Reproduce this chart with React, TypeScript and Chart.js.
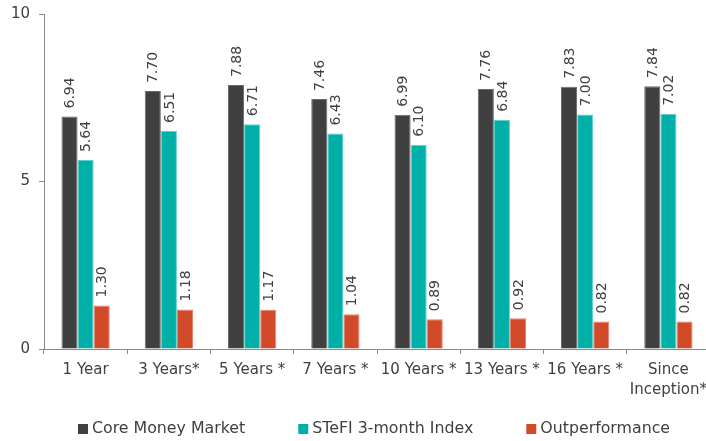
import React, { useEffect, useRef } from "react";
import { Chart, registerables } from "chart.js";

Chart.register(...registerables);

const categories: (string | string[])[] = ["1 Year", "3 Years*", "5 Years *", "7 Years *", "10 Years *", "13 Years *", "16 Years *", ["Since", "Inception*"]];
const coreMoneyMarket = [6.94, 7.70, 7.88, 7.46, 6.99, 7.76, 7.83, 7.84];
const stefi = [5.64, 6.51, 6.71, 6.43, 6.10, 6.84, 7.00, 7.02];
const outperformance = [1.30, 1.18, 1.17, 1.04, 0.89, 0.92, 0.82, 0.82];
const seriesNames = ["Core Money Market", "STeFI 3-month Index", "Outperformance"];
const seriesColors = ["#404040", "#00B0A8", "#D34A2A"];
const seriesBorders = ["#6a6a6a", "#5fd0ca", "#e8806a"];
const yTicks = [0, 5, 10];

const FONT = "'DejaVu Sans', sans-serif";
const TEXT = "#404040";

const valueLabels = {
  id: "valueLabels",
  afterDatasetsDraw(chart: any) {
    const ctx = chart.ctx;
    ctx.save();
    ctx.fillStyle = TEXT;
    ctx.font = `14px ${FONT}`;
    ctx.textAlign = "left";
    ctx.textBaseline = "middle";
    chart.data.datasets.forEach((ds: any, di: number) => {
      const meta = chart.getDatasetMeta(di);
      meta.data.forEach((bar: any, i: number) => {
        const v = ds.data[i] as number;
        ctx.save();
        ctx.translate(bar.x + 1, bar.y - 8);
        ctx.rotate(-Math.PI / 2);
        ctx.fillText(v.toFixed(2), 0, 0);
        ctx.restore();
      });
    });
    ctx.restore();
  },
};

const customLegend = {
  id: "customLegend",
  afterDraw(chart: any) {
    const ctx = chart.ctx;
    const area = chart.chartArea;
    ctx.save();
    ctx.font = `15.8px ${FONT}`;
    ctx.textBaseline = "middle";
    ctx.textAlign = "left";
    const box = 10;
    const boxGap = 4;
    const itemGap = 53;
    const widths = seriesNames.map((n) => box + boxGap + ctx.measureText(n).width);
    const total = widths.reduce((a, b) => a + b, 0) + itemGap * (widths.length - 1);
    let x = (area.left + area.right) / 2 - total / 2 - 3;
    const yc = 429;
    seriesNames.forEach((n, i) => {
      ctx.fillStyle = seriesColors[i];
      ctx.fillRect(x, yc - box / 2, box, box);
      ctx.fillStyle = TEXT;
      ctx.fillText(n, x + box + boxGap, yc);
      x += widths[i] + itemGap;
    });
    ctx.restore();
  },
};

export default function App() {
  const ref = useRef<HTMLCanvasElement | null>(null);
  useEffect(() => {
    if (!ref.current) return;
    const chart = new Chart(ref.current, {
      type: "bar",
      data: {
        labels: categories,
        datasets: [
          { label: seriesNames[0], data: coreMoneyMarket, backgroundColor: seriesColors[0], borderColor: seriesBorders[0], borderWidth: 1 },
          { label: seriesNames[1], data: stefi, backgroundColor: seriesColors[1], borderColor: seriesBorders[1], borderWidth: 1 },
          { label: seriesNames[2], data: outperformance, backgroundColor: seriesColors[2], borderColor: seriesBorders[2], borderWidth: 1 },
        ],
      },
      options: {
        animation: false,
        responsive: true,
        maintainAspectRatio: false,
        layout: { padding: { top: 14, right: 0, left: 0, bottom: 40 } },
        datasets: { bar: { categoryPercentage: 0.58, barPercentage: 1 } },
        plugins: {
          tooltip: { enabled: false },
          legend: { display: false },
        },
        scales: {
          x: {
            afterFit: (scale: any) => {
              scale.height = 52;
            },
            grid: { display: true, drawOnChartArea: false, drawTicks: true, tickLength: 5, color: "#888888", offset: true },
            border: { color: "#888888" },
            ticks: { color: TEXT, font: { family: FONT, size: 15, lineHeight: 1.33 }, maxRotation: 0, autoSkip: false, padding: 6 },
          },
          y: {
            min: 0,
            max: 10,
            afterFit: (scale: any) => {
              scale.width = 44;
              scale.paddingTop = 0;
              scale.paddingBottom = 0;
            },
            afterBuildTicks: (axis: any) => {
              axis.ticks = yTicks.map((v) => ({ value: v }));
            },
            grid: { display: true, drawOnChartArea: false, drawTicks: true, tickLength: 5, color: "#888888" },
            border: { color: "#888888" },
            ticks: { color: TEXT, font: { family: FONT, size: 15 }, padding: 9 },
          },
        },
      },
      plugins: [valueLabels, customLegend],
    });
    return () => chart.destroy();
  }, []);
  return (
    <div style={{ position: "fixed", left: 0, top: 0, width: 706, height: 441, overflow: "hidden" }}>
      <div style={{ position: "absolute", left: 0, top: 0, width: 713, height: 441 }}>
        <canvas ref={ref} />
      </div>
    </div>
  );
}
